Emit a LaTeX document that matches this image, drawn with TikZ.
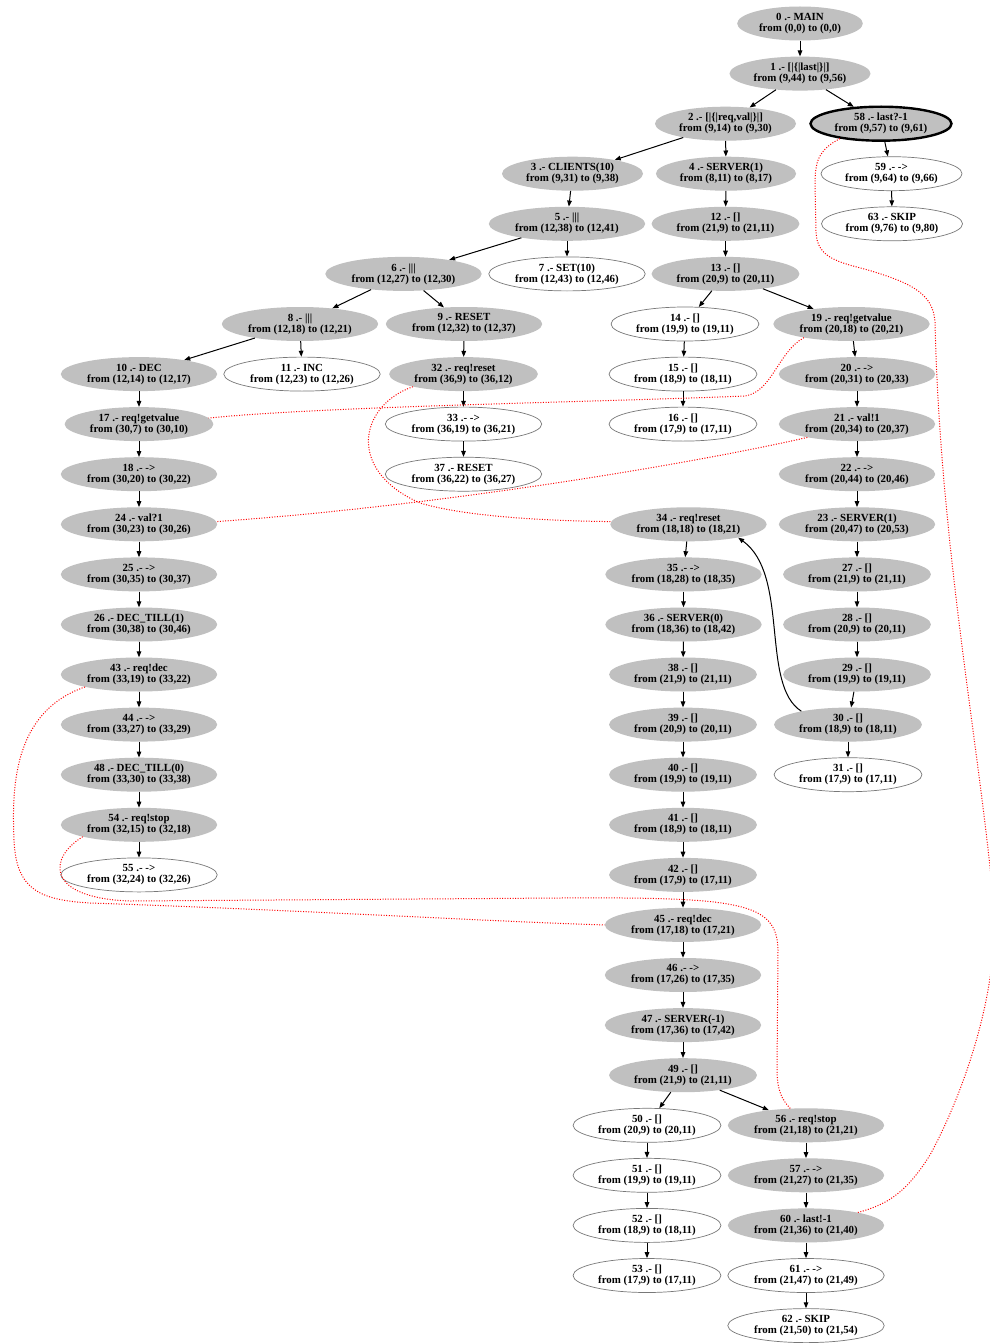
\documentclass[tikz,border=0pt]{standalone}
\usepackage{fontspec}
\setmainfont{Liberation Serif}
\usetikzlibrary{shapes.geometric,arrows.meta}
\definecolor{nodegray}{RGB}{192,192,192}
\definecolor{rimgray}{RGB}{120,120,120}
\tikzset{
  base/.style={ellipse, align=center, inner xsep=3.5pt, inner ysep=0pt, minimum height=34pt,
    font=\fontsize{10.9}{11}\selectfont\bfseries},
  gnode/.style={base, fill=nodegray},
  wnode/.style={base, draw=rimgray, line width=0.7pt, fill=white},
  hnode/.style={base, fill=nodegray, draw=black, line width=2.4pt},
  edge/.style={line width=1pt, -{Triangle[length=6pt,width=4.6pt]}},
  link/.style={red, line width=1pt, dash pattern=on 1pt off 1.6pt},
}
\begin{document}
\begin{tikzpicture}[x=1pt,y=-1pt]
\fill[white] (0,0) rectangle (989,1343);
\useasboundingbox (0,0) rectangle (989,1343);
% row 0-5
\node[gnode] (n0) at (800,23.5) {0 .- MAIN\\from (0,0) to (0,0)};
\node[gnode] (n1) at (800,73.6) {1 .- [|\{|last|\}|]\\from (9,44) to (9,56)};
\node[gnode] (n2) at (725.5,123.7) {2 .- [|\{|req,val|\}|]\\from (9,14) to (9,30)};
\node[hnode] (n58) at (881,123.7) {58 .- last?-1\\from (9,57) to (9,61)};
\node[gnode] (n3) at (572.5,173.7) {3 .- CLIENTS(10)\\from (9,31) to (9,38)};
\node[gnode] (n4) at (726,173.7) {4 .- SERVER(1)\\from (8,11) to (8,17)};
\node[wnode] (n59) at (891.5,173.7) {59 .- ->\\from (9,64) to (9,66)};
\node[gnode] (n5) at (567,223.8) {5 .- |||\\from (12,38) to (12,41)};
\node[gnode] (n12) at (725.5,223.8) {12 .- []\\from (21,9) to (21,11)};
\node[wnode] (n63) at (892,223.8) {63 .- SKIP\\from (9,76) to (9,80)};
\node[gnode] (n6) at (403.5,273.9) {6 .- |||\\from (12,27) to (12,30)};
\node[wnode] (n7) at (567,273.9) {7 .- SET(10)\\from (12,43) to (12,46)};
\node[gnode] (n13) at (725.5,273.9) {13 .- []\\from (20,9) to (20,11)};
% row 6
\node[gnode] (n8) at (300,324.0) {8 .- |||\\from (12,18) to (12,21)};
\node[gnode] (n9) at (464,324.0) {9 .- RESET\\from (12,32) to (12,37)};
\node[wnode] (n14) at (685,324.0) {14 .- []\\from (19,9) to (19,11)};
\node[gnode] (n19) at (851.5,324.0) {19 .- req!getvalue\\from (20,18) to (20,21)};
% row 7
\node[gnode] (n10) at (139,374.1) {10 .- DEC\\from (12,14) to (12,17)};
\node[wnode] (n11) at (302,374.1) {11 .- INC\\from (12,23) to (12,26)};
\node[gnode] (n32) at (463.5,374.1) {32 .- req!reset\\from (36,9) to (36,12)};
\node[wnode] (n15) at (683,374.1) {15 .- []\\from (18,9) to (18,11)};
\node[gnode] (n20) at (857,374.1) {20 .- ->\\from (20,31) to (20,33)};
% row 8
\node[gnode] (n17) at (139,424.1) {17 .- req!getvalue\\from (30,7) to (30,10)};
\node[wnode] (n33) at (463.5,424.1) {33 .- ->\\from (36,19) to (36,21)};
\node[wnode] (n16) at (683,424.1) {16 .- []\\from (17,9) to (17,11)};
\node[gnode] (n21) at (857,424.1) {21 .- val!1\\from (20,34) to (20,37)};
% row 9
\node[gnode] (n18) at (139,474.2) {18 .- ->\\from (30,20) to (30,22)};
\node[wnode] (n37) at (463.5,474.2) {37 .- RESET\\from (36,22) to (36,27)};
\node[gnode] (n22) at (857,474.2) {22 .- ->\\from (20,44) to (20,46)};
% row 10
\node[gnode] (n24) at (139,524.3) {24 .- val?1\\from (30,23) to (30,26)};
\node[gnode] (n34) at (688.5,524.3) {34 .- req!reset\\from (18,18) to (18,21)};
\node[gnode] (n23) at (857,524.3) {23 .- SERVER(1)\\from (20,47) to (20,53)};
% row 11
\node[gnode] (n25) at (139,574.4) {25 .- ->\\from (30,35) to (30,37)};
\node[gnode] (n35) at (683.5,574.4) {35 .- ->\\from (18,28) to (18,35)};
\node[gnode] (n27) at (857,574.4) {27 .- []\\from (21,9) to (21,11)};
% row 12
\node[gnode] (n26) at (139,624.5) {26 .- DEC\_TILL(1)\\from (30,38) to (30,46)};
\node[gnode] (n36) at (683.5,624.5) {36 .- SERVER(0)\\from (18,36) to (18,42)};
\node[gnode] (n28) at (857,624.5) {28 .- []\\from (20,9) to (20,11)};
% row 13
\node[gnode] (n43) at (139,674.5) {43 .- req!dec\\from (33,19) to (33,22)};
\node[gnode] (n38) at (683,674.5) {38 .- []\\from (21,9) to (21,11)};
\node[gnode] (n29) at (857,674.5) {29 .- []\\from (19,9) to (19,11)};
% row 14
\node[gnode] (n44) at (139,724.6) {44 .- ->\\from (33,27) to (33,29)};
\node[gnode] (n39) at (683,724.6) {39 .- []\\from (20,9) to (20,11)};
\node[gnode] (n30) at (848,724.6) {30 .- []\\from (18,9) to (18,11)};
% row 15
\node[gnode] (n48) at (139,774.7) {48 .- DEC\_TILL(0)\\from (33,30) to (33,38)};
\node[gnode] (n40) at (683,774.7) {40 .- []\\from (19,9) to (19,11)};
\node[wnode] (n31) at (848,774.7) {31 .- []\\from (17,9) to (17,11)};
% row 16-17
\node[gnode] (n54) at (139,824.8) {54 .- req!stop\\from (32,15) to (32,18)};
\node[gnode] (n41) at (683,824.8) {41 .- []\\from (18,9) to (18,11)};
\node[wnode] (n55) at (139,874.9) {55 .- ->\\from (32,24) to (32,26)};
\node[gnode] (n42) at (683,874.9) {42 .- []\\from (17,9) to (17,11)};
% row 18-21
\node[gnode] (n45) at (683,924.9) {45 .- req!dec\\from (17,18) to (17,21)};
\node[gnode] (n46) at (683,975.0) {46 .- ->\\from (17,26) to (17,35)};
\node[gnode] (n47) at (683,1025.1) {47 .- SERVER(-1)\\from (17,36) to (17,42)};
\node[gnode] (n49) at (683,1075.2) {49 .- []\\from (21,9) to (21,11)};
% row 22-26
\node[wnode] (n50) at (647,1125.3) {50 .- []\\from (20,9) to (20,11)};
\node[gnode] (n56) at (806,1125.3) {56 .- req!stop\\from (21,18) to (21,21)};
\node[wnode] (n51) at (647,1175.3) {51 .- []\\from (19,9) to (19,11)};
\node[gnode] (n57) at (806,1175.3) {57 .- ->\\from (21,27) to (21,35)};
\node[wnode] (n52) at (647,1225.4) {52 .- []\\from (18,9) to (18,11)};
\node[gnode] (n60) at (806,1225.4) {60 .- last!-1\\from (21,36) to (21,40)};
\node[wnode] (n53) at (647,1275.5) {53 .- []\\from (17,9) to (17,11)};
\node[wnode] (n61) at (806,1275.5) {61 .- ->\\from (21,47) to (21,49)};
\node[wnode] (n62) at (806,1325.6) {62 .- SKIP\\from (21,50) to (21,54)};

% black edges
\foreach \a/\b in {0/1,1/2,1/58,2/3,2/4,3/5,5/6,5/7,6/8,6/9,8/10,8/11,9/32,32/33,33/37,
  10/17,17/18,18/24,24/25,25/26,26/43,43/44,44/48,48/54,54/55,4/12,12/13,13/14,13/19,
  14/15,15/16,19/20,20/21,21/22,22/23,23/27,27/28,28/29,29/30,30/31,34/35,35/36,36/38,
  38/39,39/40,40/41,41/42,42/45,45/46,46/47,47/49,49/50,49/56,50/51,51/52,52/53,
  56/57,57/60,60/61,61/62,58/59,59/63}
  \draw[edge] (n\a) -- (n\b);
\draw[edge] (n30.164) .. controls (760,685) and (790,575) .. (n34.-15);

% red dotted links
\draw[link] (n58.200) .. controls (818,150) and (815,162) .. (815,185) -- (816,232)
  .. controls (817,258) and (838,262) .. (868,270) .. controls (915,284) and (933,295) .. (935,322)
  .. controls (940,550) and (982,760) .. (994,910) .. controls (998,1000) and (960,1100) .. (930,1155)
  .. controls (905,1195) and (885,1205) .. (n60.14);
\draw[link] (n19.196) .. controls (778,352) and (772,392) .. (745,396)
  .. controls (600,402) and (330,406) .. (n17.5);
\draw[link] (n21.195) .. controls (700,462) and (450,505) .. (n24.2);
\draw[link] (n32.194) .. controls (360,405) and (345,470) .. (420,503)
  .. controls (470,518) and (560,521) .. (n34.178);
\draw[link] (n43.193) .. controls (12,712) and (12,790) .. (14,840)
  .. controls (16,890) and (40,900) .. (90,903) .. controls (300,910) and (500,922) .. (n45.west);
\draw[link] (n54.192) .. controls (48,858) and (45,898) .. (130,901) -- (560,898)
  .. controls (740,897) and (777,902) .. (778,950) -- (777,1070)
  .. controls (777,1090) and (782,1100) .. (n56.133);
\end{tikzpicture}
\end{document}
